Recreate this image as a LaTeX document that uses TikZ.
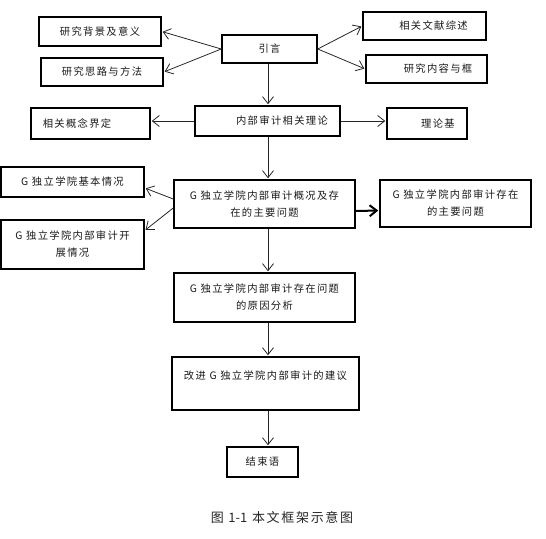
\documentclass[tikz,border=0pt]{standalone}
\usepackage{fontspec}
\newfontfamily\cjk{Noto Sans CJK SC}[LetterSpace=13]
\newfontfamily\cjkn{Noto Sans CJK SC}
\usetikzlibrary{arrows.meta}

\tikzset{
  kuang/.style={draw=black, line width=1.5pt, inner sep=0pt, align=center,
    font=\cjk\fontsize{10.3}{17}\selectfont, text=black!90},
  jian/.style={->, line width=0.8pt, draw=black!85, shorten >=1pt},
}

\begin{document}
\begin{tikzpicture}[x=1pt, y=-1pt, >={Straight Barb[length=7pt,width=11pt]}]
\useasboundingbox (0,0) rectangle (546,538);
\coordinate (spine) at (268,0);
% top: introduction
\node[kuang, minimum width=122pt, minimum height=29pt] (bj) at (100,31.5) {研究背景及意义};
\node[kuang, minimum width=122pt, minimum height=28pt] (sl) at (102,72) {研究思路与方法};
\node[kuang, minimum width=95pt, minimum height=28pt] (yy) at (269.5,49) {引言};
\node[kuang, minimum width=123pt, minimum height=28pt] (wx) at (424.5,26) {\hspace*{18pt}相关文献综述};
\node[kuang, minimum width=121pt, minimum height=28pt] (nr) at (426.5,69) {\hspace*{23pt}研究内容与框};
% theory
\node[kuang, minimum width=145pt, minimum height=30pt] (nbsj) at (267.5,121) {\hspace*{29pt}内部审计相关理论};
\node[kuang, minimum width=119pt, minimum height=31pt] (gn) at (90.5,123.5) {相关概念界定\hspace*{27pt}};
\node[kuang, minimum width=80pt, minimum height=31pt] (ll) at (427,123.5) {\hspace*{22pt}理论基};
% G college
\node[kuang, minimum width=143pt, minimum height=30pt] (jb) at (72.5,182) {G 独立学院基本情况};
\node[kuang, minimum width=181pt, minimum height=48pt] (gk) at (264.5,204) {G 独立学院内部审计概况及存\\在的主要问题};
\node[kuang, minimum width=143pt, minimum height=49pt] (kz) at (72.5,244.5) {G 独立学院内部审计开\\展情况};
\node[kuang, minimum width=151pt, minimum height=47pt] (wt) at (455.5,203.5) {G 独立学院内部审计存在\\的主要问题};
% lower column
\node[kuang, minimum width=181pt, minimum height=49pt] (yin) at (264.5,297.5) {G 独立学院内部审计存在问题\\的原因分析};
\node[kuang, minimum width=187pt, minimum height=53pt, text depth=17pt] (jy) at (265.5,383.5) {改进 G 独立学院内部审计的建议};
\node[kuang, minimum width=71pt, minimum height=30pt] (js) at (262.5,462) {结束语};
\node[font=\cjk\fontsize{13}{15}\selectfont, text=black!85] (tu) at (282,518) {图 {\cjkn 1-1} 本文框架示意图};

\draw[jian] (yy.west) -- (bj.east);
\draw[jian] (yy.west) -- (sl.east);
\draw[jian] (yy.east) -- (wx.west);
\draw[jian] (yy.east) -- (nr.west);
\draw[jian] (yy.south -| spine) -- (nbsj.north -| spine);
\draw[jian] (nbsj.west) -- (nbsj.west -| gn.east);
\draw[jian] (nbsj.east) -- (nbsj.east -| ll.west);
\draw[jian] (nbsj.south -| spine) -- (gk.north -| spine);
\draw[jian] ([yshift=5pt]gk.west) -- ([yshift=-6pt]jb.east);
\draw[jian] ([yshift=-4pt]gk.west) -- ([yshift=14pt]kz.east);
\draw[jian, line width=2pt, draw=black] ([yshift=-7pt]gk.east) -- ([yshift=-7pt]wt.west);
\draw[jian] (gk.south -| spine) -- (yin.north -| spine);
\draw[jian] (yin.south -| spine) -- (jy.north -| spine);
\draw[jian] (jy.south -| spine) -- (js.north -| spine);
\end{tikzpicture}
\end{document}
